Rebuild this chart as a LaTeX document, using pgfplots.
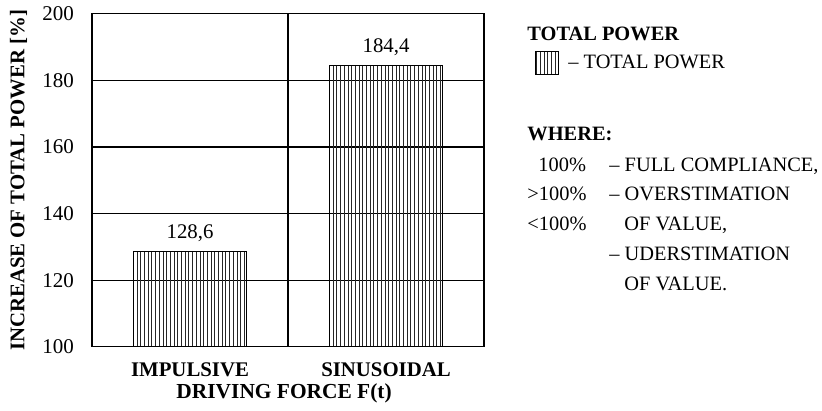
\documentclass[border=0pt]{standalone}
\usepackage{pgfplots}
\pgfplotsset{compat=1.18}
\usepackage{fontspec}
\setmainfont{Liberation Serif}
\usetikzlibrary{patterns.meta}
\begin{document}
\begin{tikzpicture}
\tikzset{hatch/.style={pattern={Lines[angle=90,distance=1.85pt,line width=0.3pt]},pattern color=black!85}}
\begin{axis}[
  at={(0,0)}, anchor=south west,
  scale only axis, width=196pt, height=166.5pt,
  ymin=100, ymax=200, ytick={100,120,...,200},
  xmin=-0.5, xmax=1.5, xtick={0,1},
  xticklabels={\textbf{IMPULSIVE},\textbf{SINUSOIDAL}},
  extra x ticks={0.5}, extra x tick labels={},
  extra x tick style={grid=major},
  ymajorgrids,
  grid style={black, line width=0.55pt},
  axis line style={black, line width=0.65pt},
  major tick length=0pt,
  tick label style={font=\fontsize{10.5}{11}\selectfont},
  /pgf/number format/assume math mode=true,
  yticklabel style={xshift=-5.5pt},
  xticklabel style={font=\fontsize{10.4}{11}\selectfont, yshift=-4.5pt},
  xlabel={\textbf{DRIVING FORCE F(t)}},
  xlabel style={font=\fontsize{10.7}{11}\selectfont, at={(axis description cs:0.49,-0.1411)}, anchor=center},
  ylabel={\textbf{INCREASE OF TOTAL POWER [\%]}},
  ylabel style={font=\fontsize{10.4}{11}\selectfont, at={(axis description cs:-0.1875,0.5)}, anchor=center},
  ybar, bar width=56.5pt, bar shift=0pt,
  nodes near coords,
  every node near coord/.append style={font=\fontsize{10.4}{11}\selectfont, yshift=1.5pt},
  nodes near coords style={/pgf/number format/.cd, use comma, fixed, fixed zerofill, precision=1, assume math mode=true},
  legend style={draw=none, fill=none, inner sep=0pt, at={(axis description cs:1.13,0.851)}, anchor=west, font=\fontsize{10.2}{11}\selectfont, /tikz/every odd column/.append style={column sep=2.5pt}},
  legend image code/.code={\draw[hatch, line width=0.5pt] (0pt,-5.75pt) rectangle (11.5pt,5.75pt);},
]
\addplot[draw=black, line width=0.6pt, hatch] coordinates {(0,128.6) (1,184.4)};
\addlegendentry{-- TOTAL POWER}
\end{axis}
\begin{scope}[every node/.style={anchor=base west, inner sep=0pt, font=\fontsize{10.2}{11}\selectfont}]
\node at (217.5pt,153.1pt) {\textbf{TOTAL POWER}};
\node at (217.5pt,103.1pt) {\textbf{WHERE:}};
\node at (223pt,87.6pt) {100\%};
\node at (217.5pt,73.1pt) {>100\%};
\node at (217.5pt,58.1pt) {<100\%};
\node at (258.5pt,87.6pt) {-- FULL COMPLIANCE,};
\node at (258.5pt,73.1pt) {-- OVERSTIMATION};
\node at (266pt,58.1pt) {OF VALUE,};
\node at (258.5pt,43.1pt) {-- UDERSTIMATION};
\node at (266pt,28.1pt) {OF VALUE.};
\end{scope}
\path[use as bounding box] (-46pt,-30.5pt) rectangle (365pt,172.5pt);
\end{tikzpicture}
\end{document}
